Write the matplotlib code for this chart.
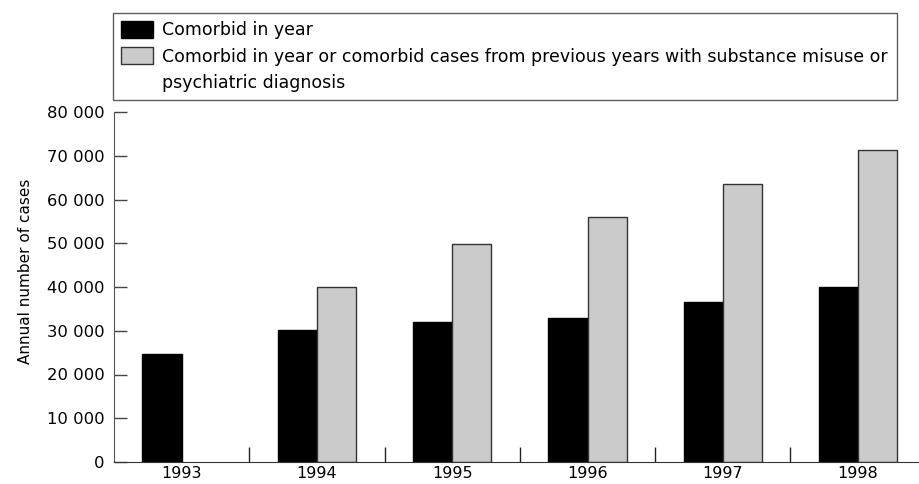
import numpy as np
import matplotlib
matplotlib.use("Agg")
import matplotlib.pyplot as plt
import matplotlib.ticker as ticker
from matplotlib.patches import Patch

plt.rcParams['font.family'] = ['DejaVu Sans']

# данные
years = ['1993', '1994', '1995', '1996', '1997', '1998']
comorbid_year = [24800, 30200, 31900, 33000, 36500, 40100]
comorbid_prev = [0, 39900, 49900, 56100, 63500, 71400]
label_year = 'Comorbid in year'
label_prev = 'Comorbid in year or comorbid cases from previous years with substance misuse or'
label_prev2 = 'psychiatric diagnosis'

fig = plt.figure(figsize=(9.19, 4.84), dpi=100)
ax = fig.add_axes([114/919, 1 - 462/484, 1 - 114/919, (462 - 112)/484])

x = np.arange(len(years))
w = 0.29
b1 = ax.bar(x - w/2, comorbid_year, w, color='black', edgecolor='black', linewidth=1, label=label_year)
prev = np.array(comorbid_prev, dtype=float)
prev[prev == 0] = np.nan
b2 = ax.bar(x + w/2, prev, w, color='#cbcbcb', edgecolor='#333333', linewidth=1, label=label_prev)

ax.set_xlim(-0.5, 5.45)
ax.set_ylim(0, 80000)
ax.yaxis.set_major_locator(ticker.MultipleLocator(10000))
ax.yaxis.set_major_formatter(ticker.FuncFormatter(lambda v, p: '{:,}'.format(int(v)).replace(',', ' ')))
ax.set_xticks(x)
ax.set_xticklabels(years)
ax.set_xticks(np.arange(0.5, 5, 1), minor=True)
ax.tick_params(axis='x', which='major', length=0, labelsize=11.5, pad=3)
ax.tick_params(axis='x', which='minor', direction='in', length=11, width=1, color='#222222')
ax.tick_params(axis='y', direction='in', length=9.5, width=1, color='#444444', labelsize=11.8, pad=7)

for s in ['top', 'right']:
    ax.spines[s].set_visible(False)
ax.spines['left'].set_color('#555555')
ax.spines['bottom'].set_color('#333333')
ax.set_ylabel('Annual number of cases', fontsize=11)
ax.yaxis.set_label_coords(-81/805, (462 - 271)/350)

# третья строка легенды - продолжение второй подписи, без маркера
blank = Patch(facecolor='none', edgecolor='none')
leg = fig.legend(handles=[b1, b2, blank], labels=[label_year, label_prev, label_prev2], loc='upper left',
                 bbox_to_anchor=(113/919, 1 - 13/484, (897 - 113)/919, 0), mode='expand',
                 fontsize=12.5, frameon=True, fancybox=False, edgecolor='#333333',
                 handlelength=1.85, handleheight=1.15, handletextpad=0.5, borderpad=0.45,
                 labelspacing=0.45, borderaxespad=0)
leg.get_frame().set_linewidth(1)

fig.savefig('out.png', dpi=100)
